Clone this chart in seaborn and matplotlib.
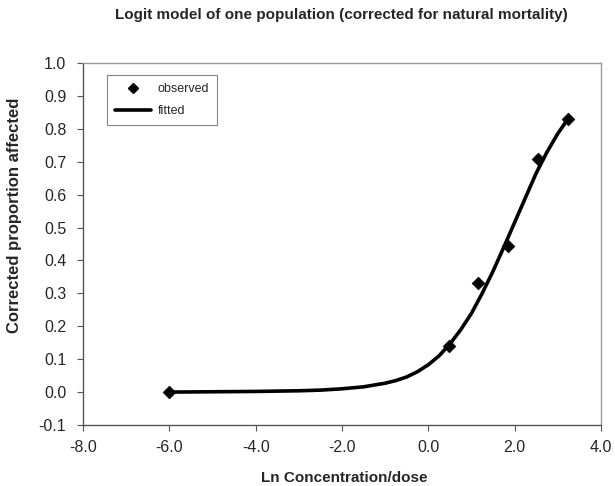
import matplotlib
matplotlib.use('Agg')
import matplotlib.pyplot as plt
import seaborn as sns
import pandas as pd
from matplotlib.lines import Line2D

# observed points
obs_x = [-6.0, 0.47, 1.16, 1.84, 2.55, 3.25]
obs_y = [0.000, 0.140, 0.333, 0.445, 0.709, 0.829]

# fitted curve
fit_x = [-6.0, -5.0, -4.0, -3.0, -2.5, -2.0, -1.5, -1.0, -0.75, -0.5, -0.25, 0.0,
         0.25, 0.5, 0.75, 1.0, 1.25, 1.5, 1.75, 2.0, 2.25, 2.5, 2.75, 3.0, 3.23]
fit_y = [0.000, 0.001, 0.002, 0.004, 0.006, 0.010, 0.016, 0.027, 0.035, 0.046, 0.062, 0.083,
         0.110, 0.146, 0.189, 0.239, 0.300, 0.367, 0.440, 0.515, 0.590, 0.665, 0.729, 0.785, 0.829]

x_ticks = [-8.0, -6.0, -4.0, -2.0, 0.0, 2.0, 4.0]
y_ticks = [-0.1, 0.0, 0.1, 0.2, 0.3, 0.4, 0.5, 0.6, 0.7, 0.8, 0.9, 1.0]


def main():
    sns.set_style('ticks')
    plt.rcParams['font.family'] = ['Liberation Sans', 'DejaVu Sans']

    fig = plt.figure(figsize=(6.15, 4.86), dpi=100)
    ax = fig.add_axes([0.135, 0.1255, 0.842, 0.7449])

    obs = pd.DataFrame({'x': obs_x, 'y': obs_y})
    fit = pd.DataFrame({'x': fit_x, 'y': fit_y})

    sns.lineplot(data=fit, x='x', y='y', ax=ax, color='black', linewidth=2.6, zorder=2)
    sns.scatterplot(data=obs, x='x', y='y', ax=ax, marker='D', color='black', s=42,
                    edgecolor='black', linewidth=0.5, zorder=3)

    ax.set_xlim(-8, 4)
    ax.set_ylim(-0.1, 1.0)
    ax.set_xticks(x_ticks)
    ax.set_yticks(y_ticks)
    ax.set_xticklabels(['%.1f' % v for v in x_ticks], fontsize=11.5)
    ax.set_yticklabels(['%.1f' % v for v in y_ticks], fontsize=11.5)
    ax.tick_params(direction='out', length=4, width=0.8, color='#555555')
    ax.tick_params(axis='x', pad=6.5)
    ax.tick_params(axis='y', pad=8)

    for s in ['left', 'bottom']:
        ax.spines[s].set_color('#555555')
        ax.spines[s].set_linewidth(1.0)
    for s in ['top', 'right']:
        ax.spines[s].set_visible(True)
        ax.spines[s].set_color('#9a9a9a')
        ax.spines[s].set_linewidth(1.0)

    ax.set_xlabel('Ln Concentration/dose', fontsize=11, fontweight='bold')
    ax.xaxis.set_label_coords(0.504, -0.126)
    ax.set_ylabel('Corrected proportion affected', fontsize=12, fontweight='bold')
    ax.yaxis.set_label_coords(-0.118, 0.58)
    fig.text(0.555, 0.969, 'Logit model of one population (corrected for natural mortality)',
             ha='center', va='center', fontsize=11, fontweight='bold')

    handles = [Line2D([], [], marker='D', color='black', linestyle='none', markersize=5),
               Line2D([], [], color='black', linewidth=2.6)]
    leg = ax.legend(handles, ['observed', 'fitted'], loc='upper left',
                    bbox_to_anchor=(0.046, 0.967), frameon=True, fancybox=False,
                    prop={'size': 9}, handlelength=2.9, handletextpad=0.5,
                    borderpad=0.65, labelspacing=0.8, borderaxespad=0)
    leg.get_frame().set_edgecolor('#666666')
    leg.get_frame().set_linewidth(0.8)

    fig.savefig('out.png', dpi=100, facecolor='white')


if __name__ == '__main__':
    main()
